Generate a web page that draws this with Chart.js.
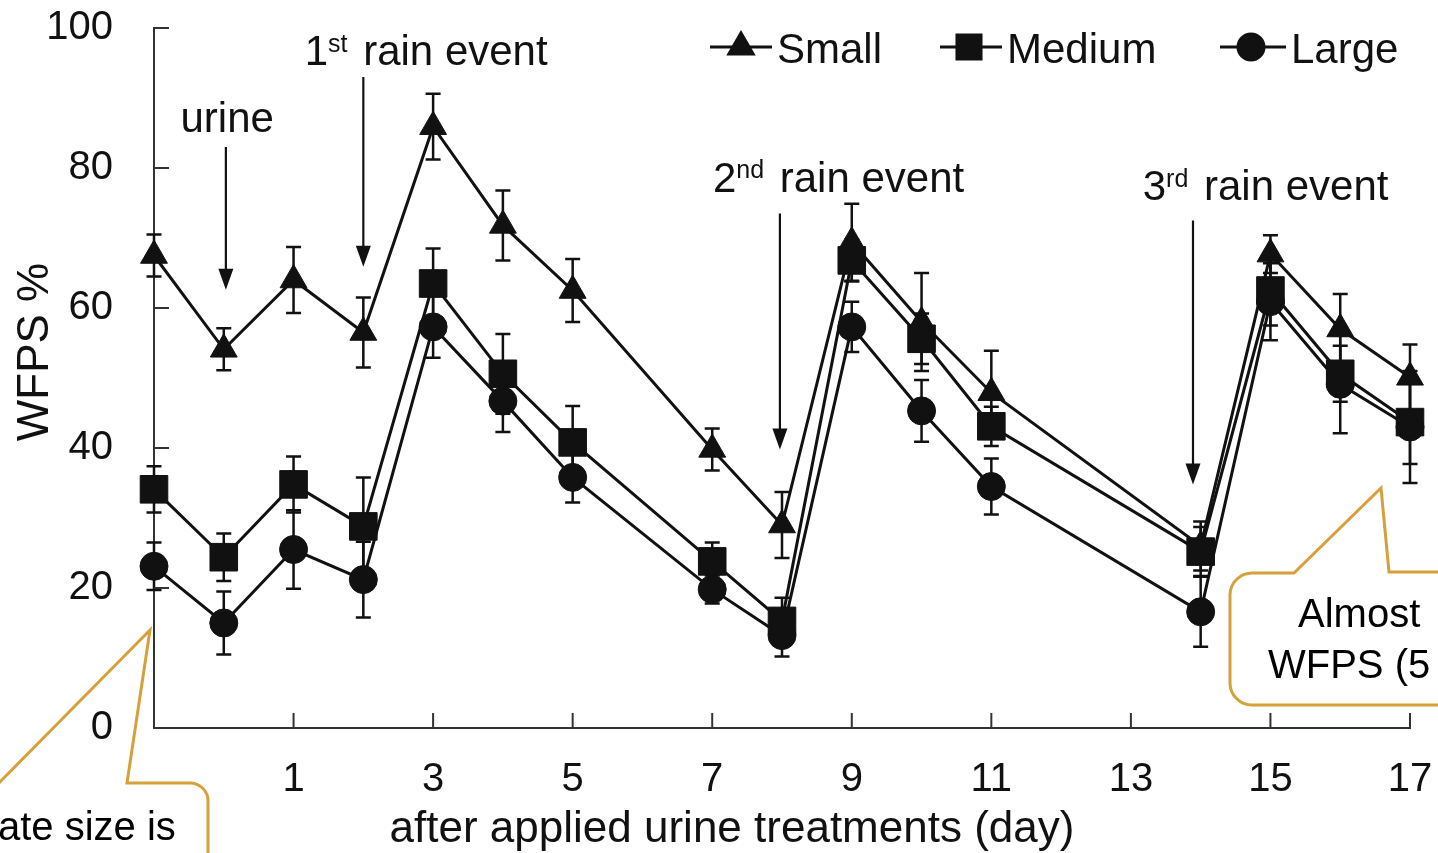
<!DOCTYPE html>
<html>
<head>
<meta charset="utf-8">
<script src="https://cdn.jsdelivr.net/npm/chart.js@4/dist/chart.umd.min.js"></script>
<style>
html,body{margin:0;padding:0;background:#fff;}
#wrap{width:1438px;height:853px;position:relative;}
</style>
</head>
<body>
<div id="wrap"><canvas id="c" width="1438" height="853"></canvas></div>
<script>
// ---------------- DATA ----------------
const days = [-1, 0, 1, 2, 3, 4, 5, 7, 8, 9, 10, 11, 14, 15, 16, 17];

const smallVals  = [67.5, 54.1, 64.0, 56.5, 85.9, 71.8, 62.5, 39.8, 29.0, 69.4, 58.0, 47.9, 26.0, 67.7, 57.0, 50.1];
const smallErr   = [3.0, 3.0, 4.7, 5.0, 4.7, 5.0, 4.5, 3.0, 4.7, 5.5, 7.0, 6.0, 3.5, 2.7, 5.0, 4.7];

const mediumVals = [34.1, 24.4, 34.8, 28.8, 63.5, 50.6, 40.8, 23.8, 15.3, 66.8, 55.6, 43.1, 25.2, 62.5, 50.6, 43.7];
const mediumErr  = [3.3, 3.4, 4.0, 7.0, 5.0, 5.7, 5.2, 2.7, 3.3, 3.0, 3.6, 2.8, 3.5, 5.0, 4.0, 6.0];

const largeVals  = [23.1, 15.0, 25.5, 21.2, 57.3, 46.7, 35.8, 19.8, 13.2, 57.3, 45.3, 34.5, 16.6, 60.9, 49.1, 43.0];
const largeErr   = [3.4, 4.5, 5.6, 5.4, 4.4, 4.4, 3.6, 2.0, 3.0, 3.6, 4.4, 4.0, 5.0, 5.5, 7.0, 8.0];

const seriesNames = ['Small', 'Medium', 'Large'];

const xTickValues = [1, 3, 5, 7, 9, 11, 13, 15, 17];
const xTickLabels = ['1', '3', '5', '7', '9', '11', '13', '15', '17'];
const yTickValues = [0, 20, 40, 60, 80, 100];
const yTickLabels = ['0', '20', '40', '60', '80', '100'];

const xTitle = 'after applied urine treatments (day)';
const yTitle = 'WFPS %';

// event annotations (text pieces; [text, isSuperscript])
const eventTexts = [
  [['urine', false]],
  [['1', false], ['st', true], [' rain event', false]],
  [['2', false], ['nd', true], [' rain event', false]],
  [['3', false], ['rd', true], [' rain event', false]]
];
const calloutTexts = [['ate size is'], ['Almost', 'WFPS (5']];

// ---------------- STYLE / LAYOUT ----------------
const FONT = '"Liberation Sans", Arial, Helvetica, sans-serif';
const INK = '#111';
const AXIS = '#333';
const GOLD = '#D6A03A';

// annotation placement in data units (day, WFPS)
const eventTextPos  = [[-0.62, 85.1], [1.16, 94.7], [7.01, 76.6], [13.17, 75.4]];
const eventArrowPos = [[0.03, 83.0, 62.6], [2.0, 93.0, 65.9], [7.97, 73.5, 39.8], [13.89, 72.5, 34.8]];

const seriesVals = [smallVals, mediumVals, largeVals];
const seriesErrs = [smallErr, mediumErr, largeErr];
const pointStyles = ['triangle', 'rect', 'circle'];
const pointRadii = [15.5, 19.5, 14];

function toXY(vals) { return days.map((d, i) => ({ x: d, y: vals[i] })); }

const errorBarPlugin = {
  id: 'errbars',
  beforeDatasetsDraw(chart) {
    const { ctx, scales: { x, y } } = chart;
    ctx.save();
    ctx.strokeStyle = INK;
    ctx.lineWidth = 2.5;
    seriesVals.forEach((vals, si) => {
      const errs = seriesErrs[si];
      days.forEach((d, i) => {
        const px = x.getPixelForValue(d);
        const top = y.getPixelForValue(vals[i] + errs[i]);
        const bot = y.getPixelForValue(vals[i] - errs[i]);
        ctx.beginPath();
        ctx.moveTo(px, top); ctx.lineTo(px, bot);
        ctx.moveTo(px - 7.5, top); ctx.lineTo(px + 7.5, top);
        ctx.moveTo(px - 7.5, bot); ctx.lineTo(px + 7.5, bot);
        ctx.stroke();
      });
    });
    ctx.restore();
  }
};

function drawPieces(ctx, x0, yb, pieces, size) {
  let cx = x0;
  pieces.forEach(([t, sup]) => {
    ctx.font = (sup ? Math.round(size * 0.6) : size) + 'px ' + FONT;
    ctx.fillText(t, cx, sup ? yb - size * 0.32 : yb);
    cx += ctx.measureText(t).width + (sup ? 4 : 0);
  });
}

function drawArrow(ctx, px, y1, y2) {
  ctx.beginPath();
  ctx.moveTo(px, y1); ctx.lineTo(px, y2 - 16);
  ctx.stroke();
  ctx.beginPath();
  ctx.moveTo(px, y2);
  ctx.lineTo(px - 7.5, y2 - 21);
  ctx.lineTo(px + 7.5, y2 - 21);
  ctx.closePath();
  ctx.fill();
}

const decorPlugin = {
  id: 'decor',
  afterDraw(chart) {
    const { ctx, scales: { x, y } } = chart;
    ctx.save();
    // inward tick marks
    ctx.strokeStyle = AXIS;
    ctx.lineWidth = 2;
    ctx.beginPath();
    xTickValues.forEach(v => {
      const px = x.getPixelForValue(v);
      ctx.moveTo(px, y.bottom); ctx.lineTo(px, y.bottom - 15);
    });
    yTickValues.forEach(v => {
      if (v === 0) return;
      const py = y.getPixelForValue(v);
      ctx.moveTo(x.left, py); ctx.lineTo(x.left + 15, py);
    });
    ctx.stroke();

    // axis titles
    ctx.fillStyle = INK;
    ctx.textBaseline = 'alphabetic';
    ctx.font = '44px ' + FONT;
    ctx.textAlign = 'center';
    ctx.fillText(xTitle, 732, 842);
    ctx.save();
    ctx.translate(48, 352);
    ctx.rotate(-Math.PI / 2);
    ctx.fillText(yTitle, 0, 0);
    ctx.restore();

    // event labels and arrows
    ctx.textAlign = 'left';
    eventTexts.forEach((pieces, i) => {
      const [d, v] = eventTextPos[i];
      drawPieces(ctx, x.getPixelForValue(d), y.getPixelForValue(v), pieces, 42);
    });
    ctx.strokeStyle = INK;
    ctx.fillStyle = INK;
    ctx.lineWidth = 2.2;
    eventArrowPos.forEach(([d, v1, v2]) => {
      drawArrow(ctx, x.getPixelForValue(d), y.getPixelForValue(v1), y.getPixelForValue(v2));
    });

    // legend
    const legendItems = [
      { x1: 710, x2: 772, mx: 741 },
      { x1: 940, x2: 1002, mx: 969 },
      { x1: 1220, x2: 1286, mx: 1251 }
    ];
    const ly = 47;
    legendItems.forEach((it, i) => {
      ctx.strokeStyle = INK; ctx.lineWidth = 3;
      ctx.beginPath(); ctx.moveTo(it.x1, ly); ctx.lineTo(it.x2, ly); ctx.stroke();
      ctx.fillStyle = INK;
      Chart.helpers.drawPoint(ctx, {
        pointStyle: pointStyles[i], radius: [14, 17, 13][i], rotation: 0, borderWidth: 1
      }, it.mx, ly);
      ctx.fill();
      ctx.font = '42px ' + FONT;
      ctx.fillText(seriesNames[i], it.x2 + 5, 63);
    });

    // callouts
    ctx.strokeStyle = GOLD;
    ctx.lineWidth = 3;
    ctx.lineJoin = 'miter';
    ctx.beginPath();
    ctx.moveTo(-10, 792);
    ctx.lineTo(150, 630);
    ctx.lineTo(127, 783);
    ctx.lineTo(190, 783);
    ctx.arcTo(208, 783, 208, 801, 18);
    ctx.lineTo(208, 860);
    ctx.stroke();
    ctx.beginPath();
    ctx.moveTo(1445, 572);
    ctx.lineTo(1389, 572);
    ctx.lineTo(1381, 488);
    ctx.lineTo(1294, 573);
    ctx.lineTo(1252, 573);
    ctx.arcTo(1230, 573, 1230, 595, 22);
    ctx.lineTo(1230, 683);
    ctx.arcTo(1230, 705, 1252, 705, 22);
    ctx.lineTo(1445, 705);
    ctx.stroke();

    ctx.fillStyle = '#000';
    ctx.font = '40px ' + FONT;
    ctx.textAlign = 'left';
    ctx.fillText(calloutTexts[0][0], -2, 840);
    ctx.fillText(calloutTexts[1][0], 1298, 627);
    ctx.fillText(calloutTexts[1][1], 1268, 678);
    ctx.restore();
  }
};

const datasets = seriesNames.map((name, i) => ({
  label: name,
  data: toXY(seriesVals[i]),
  borderColor: INK,
  backgroundColor: INK,
  borderWidth: 3,
  pointStyle: pointStyles[i],
  pointRadius: pointRadii[i],
  pointBackgroundColor: INK,
  pointBorderColor: INK,
  pointBorderWidth: 1,
  tension: 0,
  fill: false,
  clip: false
}));

new Chart(document.getElementById('c').getContext('2d'), {
  type: 'line',
  data: { datasets },
  options: {
    responsive: false,
    animation: false,
    events: [],
    layout: { padding: { top: 28, right: 28, bottom: 0, left: 0 } },
    plugins: { legend: { display: false }, tooltip: { enabled: false }, title: { display: false } },
    scales: {
      x: {
        type: 'linear', min: -1, max: 17,
        grid: { display: false, drawTicks: false },
        border: { display: true, color: AXIS, width: 2 },
        afterBuildTicks: s => { s.ticks = xTickValues.map(v => ({ value: v })); },
        ticks: {
          padding: 28, autoSkip: false, maxRotation: 0, color: INK,
          font: { family: FONT, size: 40 },
          callback: v => xTickLabels[xTickValues.indexOf(v)]
        },
        afterFit: s => { s.height = 125; s.paddingLeft = 0; s.paddingRight = 0; s.paddingTop = 0; s.paddingBottom = 0; }
      },
      y: {
        type: 'linear', min: 0, max: 100,
        grid: { display: false, drawTicks: false },
        border: { display: true, color: AXIS, width: 2 },
        afterBuildTicks: s => { s.ticks = yTickValues.map(v => ({ value: v })); },
        ticks: {
          padding: 41, color: INK,
          font: { family: FONT, size: 40 },
          callback: v => yTickLabels[yTickValues.indexOf(v)]
        },
        afterFit: s => { s.width = 154; s.paddingLeft = 0; s.paddingRight = 0; s.paddingTop = 0; s.paddingBottom = 0; }
      }
    }
  },
  plugins: [errorBarPlugin, decorPlugin]
});
</script>
</body>
</html>
